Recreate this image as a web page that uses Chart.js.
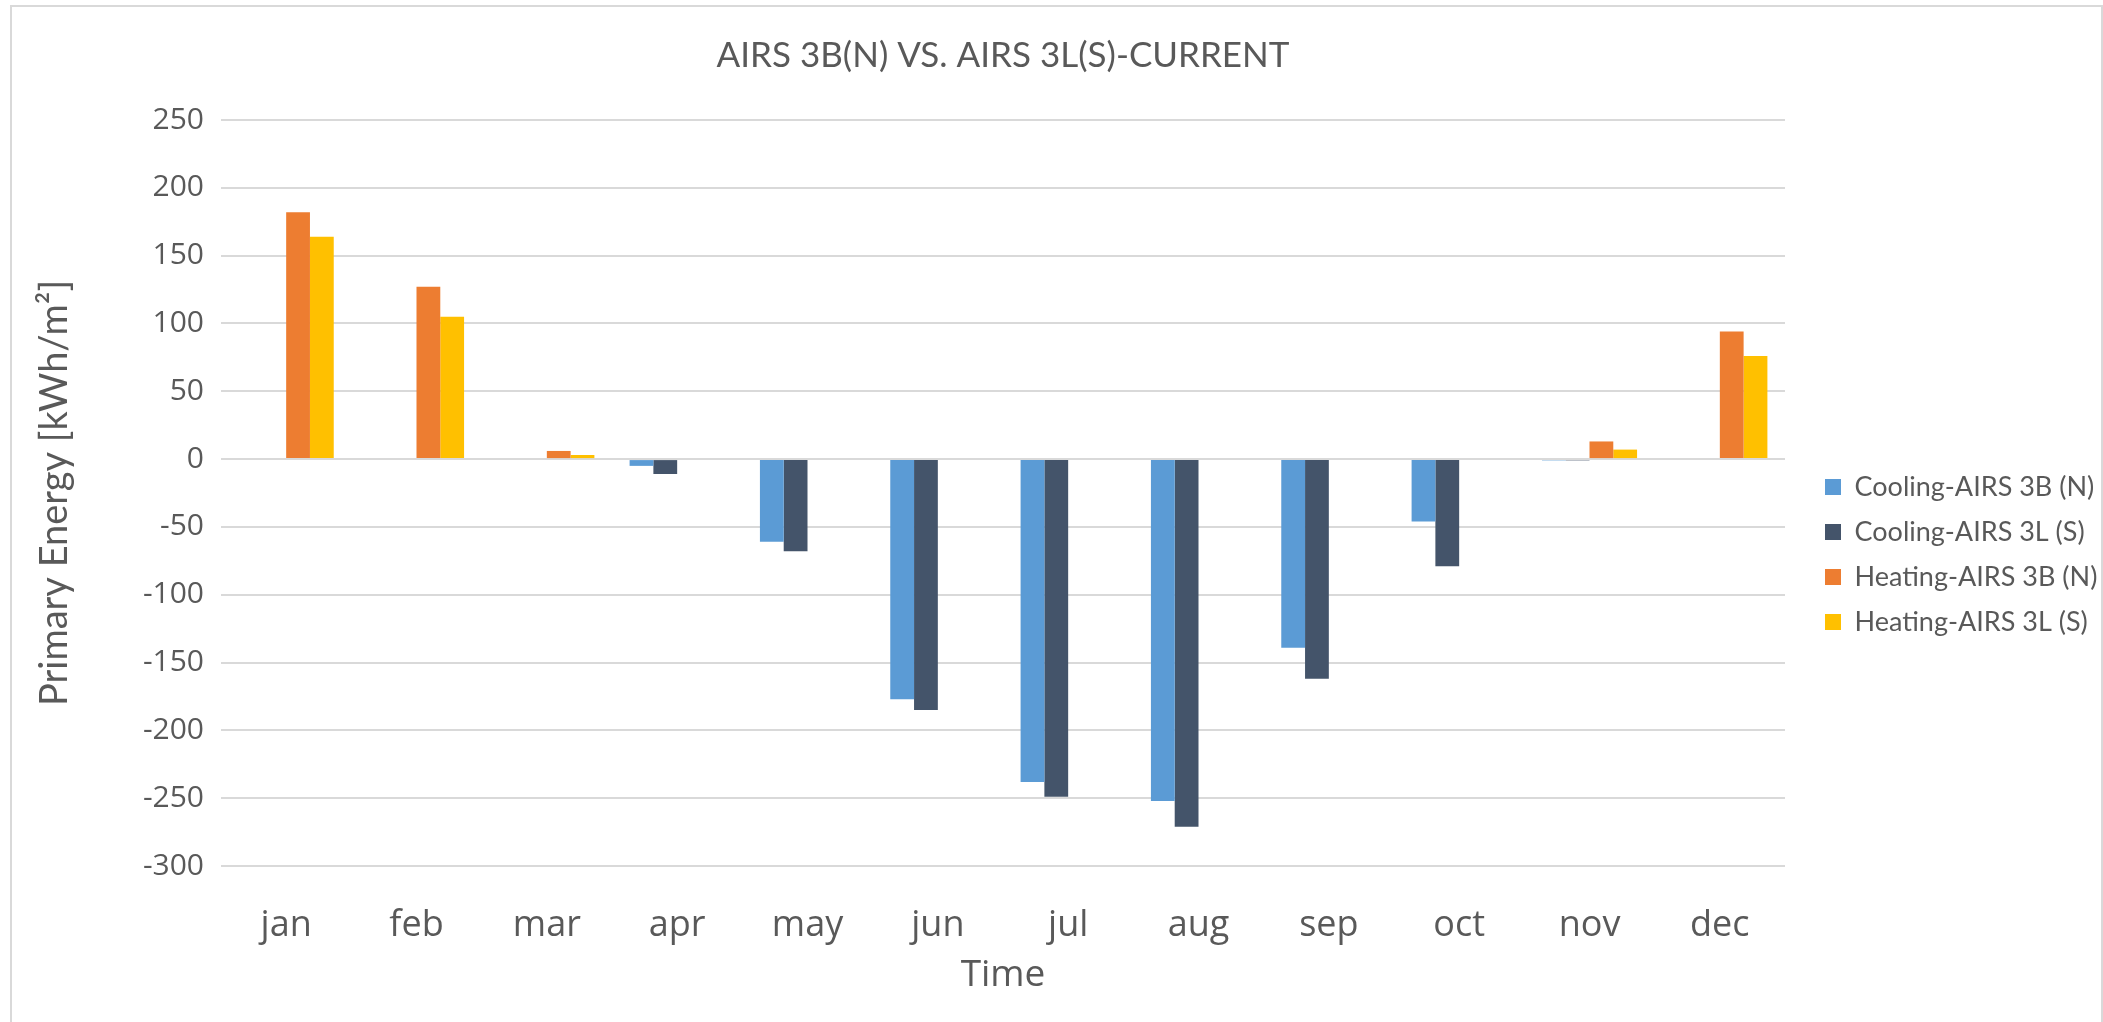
<!DOCTYPE html>
<html>
<head>
<meta charset="utf-8">
<script src="https://cdn.jsdelivr.net/npm/chart.js@4"></script>
<style>
  body { margin: 0; background: #fff; overflow: hidden; }
  #wrap { position: relative; width: 2103px; height: 1022px; }
  #frame { position: absolute; left: 10px; top: 5px; width: 2089px; height: 1100px;
           border: 2px solid #d9d9d9; border-bottom: none; }
</style>
</head>
<body>
<div id="wrap">
  <div id="frame"></div>
  <canvas id="mychart"></canvas>
</div>
<script>
// monthly primary energy, kWh/m2 (cooling drawn negative)
const months = ["jan", "feb", "mar", "apr", "may", "jun", "jul", "aug", "sep", "oct", "nov", "dec"];
const cooling3B = [0, 0, 0, -5, -61, -177, -238, -252, -139, -46, -1, 0];
const cooling3L = [0, 0, 0, -11, -68, -185, -249, -271, -162, -79, -1, 0];
const heating3B = [182, 127, 6, 0, 0, 0, 0, 0, 0, 0, 13, 94];
const heating3L = [164, 105, 3, 0, 0, 0, 0, 0, 0, 0, 7, 76];

const grey = "#595959";
Chart.defaults.color = grey;

const ctx = document.getElementById("mychart").getContext("2d");
const myChart = new Chart(ctx, {
  type: "bar",
  data: {
    labels: months,
    datasets: [
      { label: "Cooling-AIRS 3B (N)", data: cooling3B, backgroundColor: "#5B9BD5" },
      { label: "Cooling-AIRS 3L (S)", data: cooling3L, backgroundColor: "#44546A" },
      { label: "Heating-AIRS 3B (N)", data: heating3B, backgroundColor: "#ED7D31" },
      { label: "Heating-AIRS 3L (S)", data: heating3L, backgroundColor: "#FFC000" },
    ],
  },
  options: {
    responsive: true,
    maintainAspectRatio: false,
    animation: false,
    layout: { padding: { left: 14, right: 0, top: 0, bottom: 0 } },
    datasets: { bar: { barPercentage: 1, categoryPercentage: 0.73 } },
    scales: {
      x: {
        grid: { display: false },
        border: { display: false },
        ticks: { padding: 30, font: { family: "'Open Sans'", size: 36 } },
        title: { display: true, text: "Time", padding: { top: 0, bottom: 24 },
                 font: { family: "'Open Sans'", size: 37 } },
        afterFit: (s) => { s.height = 156; },
      },
      y: {
        min: -300,
        max: 250,
        ticks: { stepSize: 50, padding: 17, font: { family: "'Open Sans'", size: 30 } },
        grid: { color: "#d9d9d9", lineWidth: 2, drawTicks: false },
        border: { display: false },
        title: { display: true, text: "Primary Energy [kWh/m²]", padding: { top: 18, bottom: 0 },
                 font: { family: "Lato", size: 38 } },
        afterFit: (s) => { s.width = 207; },
      },
      // empty spacer between plot and legend
      gap: {
        type: "linear",
        position: "right",
        grid: { display: false },
        ticks: { display: false },
        border: { display: false },
        afterFit: (s) => { s.width = 22; },
      },
    },
    plugins: {
      title: {
        display: true,
        text: "AIRS 3B(N) VS. AIRS 3L(S)-CURRENT",
        fullSize: false,
        color: grey,
        font: { family: "Lato", size: 35, weight: "normal" },
        padding: { top: 35, bottom: 43 },
      },
      legend: {
        position: "right",
        maxWidth: 296,
        title: { display: true, text: "", padding: { top: 75, bottom: 0 }, font: { size: 10 } },
        labels: {
          boxWidth: 16,
          boxHeight: 16,
          padding: 18,
          color: grey,
          font: { family: "Lato", size: 27 },
        },
      },
      tooltip: { enabled: false },
    },
  },
});
</script>
</body>
</html>
